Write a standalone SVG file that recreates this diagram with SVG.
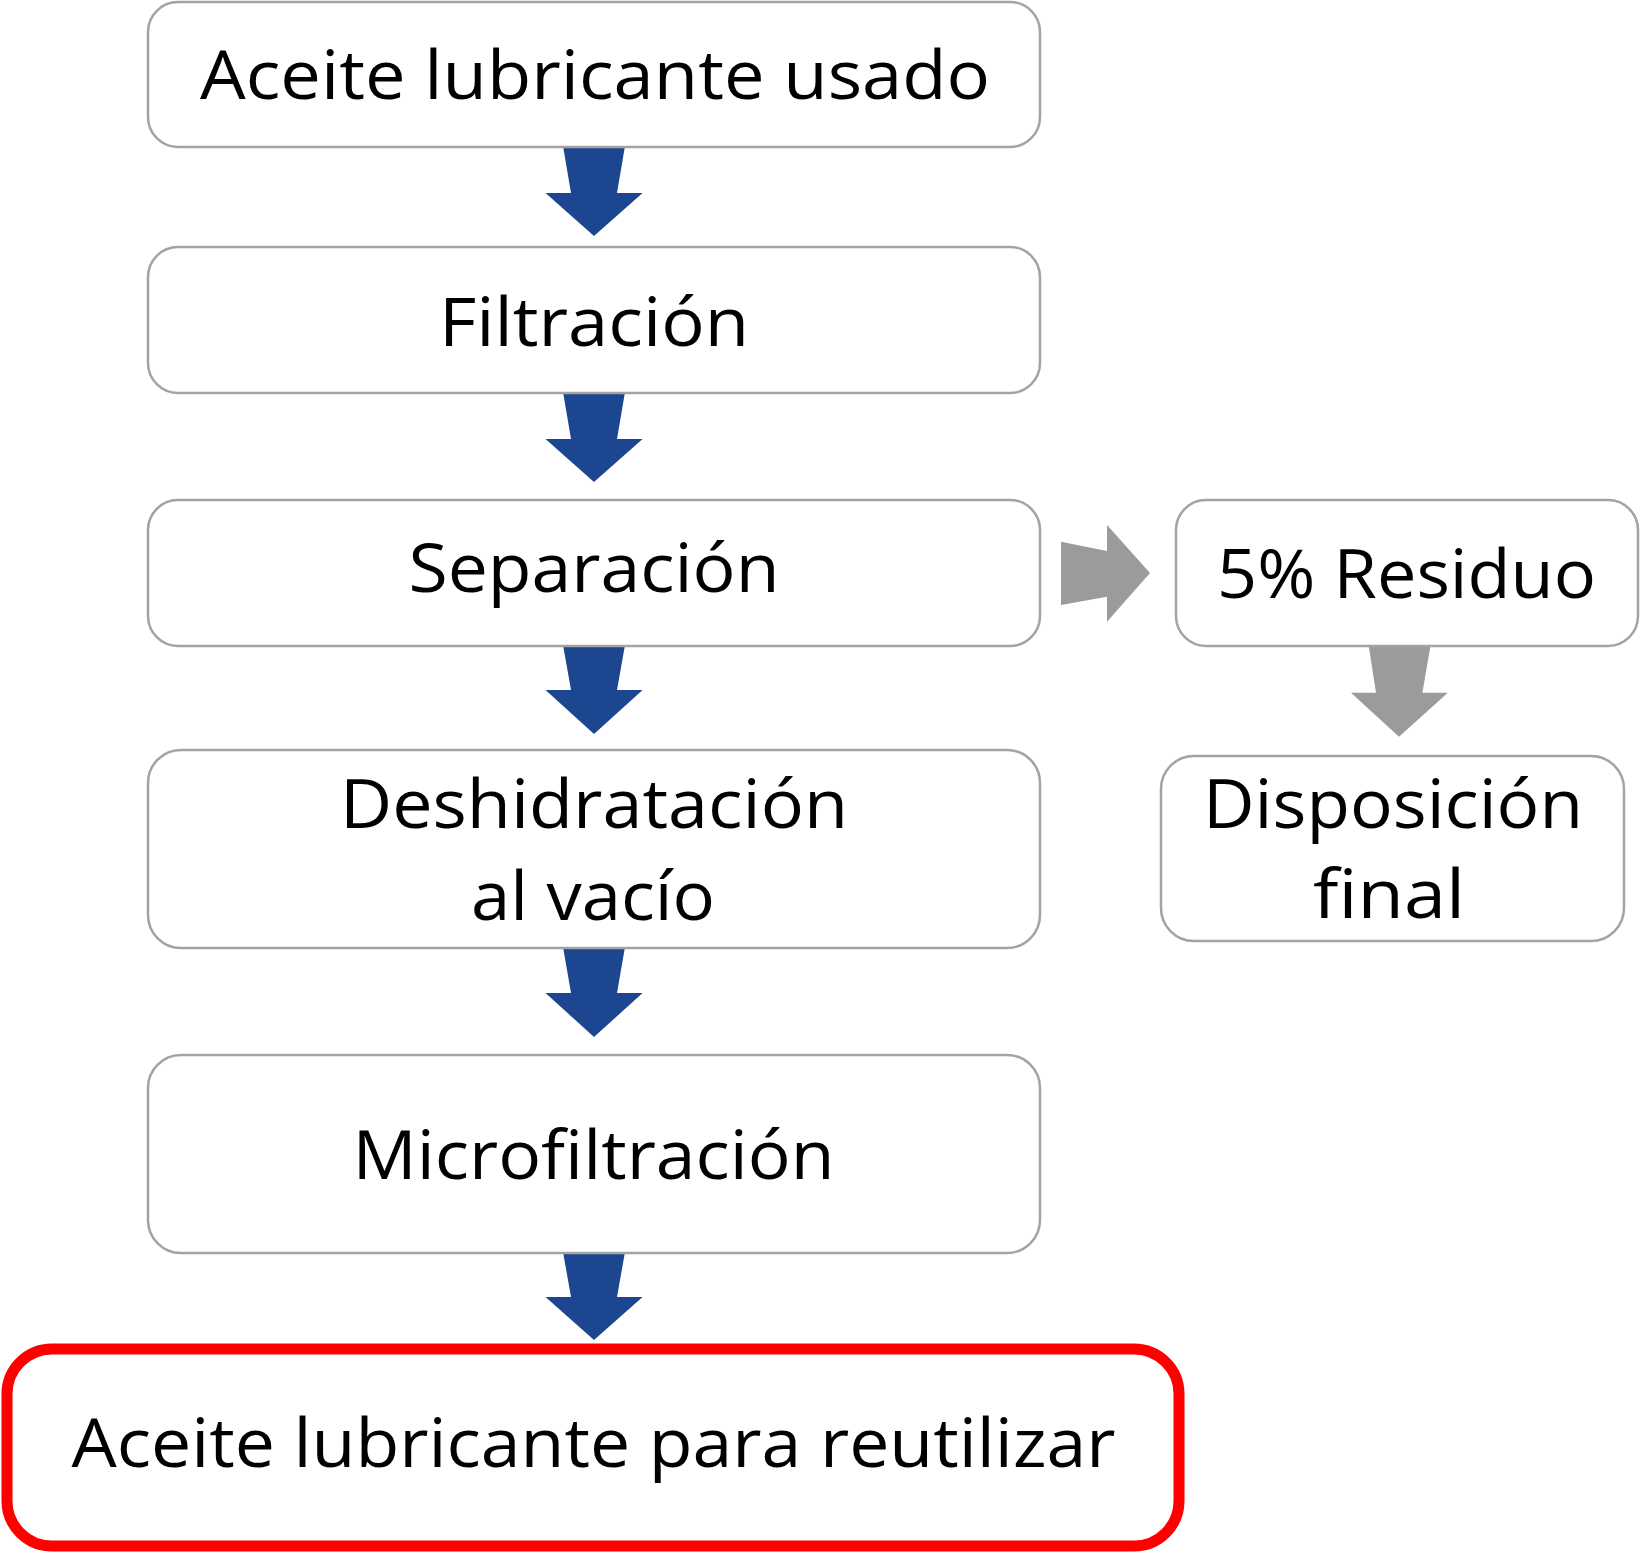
<svg xmlns="http://www.w3.org/2000/svg" width="1640" height="1552" viewBox="0 0 1640 1552">
<style>
.box{fill:#ffffff;stroke:#a3a3a3;stroke-width:2.5}
.final{fill:#ffffff;stroke:#ff0000;stroke-width:11}
.lbl{font-family:"Open Sans","Noto Sans","Liberation Sans",sans-serif;font-size:67px;fill:#000000;text-anchor:middle}
.blue{fill:#1c4790}
.grey{fill:#9b9b9b}
</style>
<rect width="1640" height="1552" fill="#ffffff"/>
<g id="connectors">
<polygon class="blue" points="563,146 625,146 617,193 642.6,193 594,236 545.5,193 571,193"/>
<polygon class="blue" points="563,392 625,392 617,439 642.6,439 594,482 545.5,439 571,439"/>
<polygon class="blue" points="563,645 625,645 617,690 642.6,690 594,734 545.5,690 571,690"/>
<polygon class="blue" points="563,947 625,947 617,993 642.6,993 594,1037 545.5,993 571,993"/>
<polygon class="blue" points="563,1252 625,1252 617,1297 642.6,1297 594,1340 545.5,1297 571,1297"/>
<polygon class="grey" points="1061,541.7 1107,551 1107,525 1150,573 1107,621.7 1107,596.7 1061,605"/>
<polygon class="grey" points="1368.6,645 1430.6,645 1422.4,692.7 1447.8,692.7 1399,736.7 1351,692.7 1376,692.7"/>
</g>
<g id="node-aceite-usado">
<rect class="box" x="148" y="2" width="892" height="145" rx="30"/>
<text class="lbl" x="595" y="99" textLength="790" lengthAdjust="spacingAndGlyphs">Aceite lubricante usado</text>
</g>
<g id="node-filtracion">
<rect class="box" x="148" y="247" width="892" height="146" rx="30"/>
<text class="lbl" x="594" y="346" textLength="310" lengthAdjust="spacingAndGlyphs">Filtración</text>
</g>
<g id="node-separacion">
<rect class="box" x="148" y="500" width="892" height="146" rx="30"/>
<text class="lbl" x="594" y="592" textLength="371" lengthAdjust="spacingAndGlyphs">Separación</text>
</g>
<g id="node-deshidratacion">
<rect class="box" x="148" y="750" width="892" height="198" rx="33"/>
<text class="lbl" x="594" y="828" textLength="508" lengthAdjust="spacingAndGlyphs">Deshidratación</text>
<text class="lbl" x="593" y="920" textLength="244" lengthAdjust="spacingAndGlyphs">al vacío</text>
</g>
<g id="node-microfiltracion">
<rect class="box" x="148" y="1055" width="892" height="198" rx="33"/>
<text class="lbl" x="593.5" y="1179" textLength="482" lengthAdjust="spacingAndGlyphs">Microfiltración</text>
</g>
<g id="node-aceite-reutilizar">
<rect class="final" x="7" y="1349" width="1172" height="197" rx="45"/>
<text class="lbl" x="593.5" y="1467" textLength="1044" lengthAdjust="spacingAndGlyphs">Aceite lubricante para reutilizar</text>
</g>
<g id="node-residuo">
<rect class="box" x="1176" y="500" width="462" height="146" rx="30"/>
<text class="lbl" x="1406.5" y="598" textLength="379" lengthAdjust="spacingAndGlyphs">5% Residuo</text>
</g>
<g id="node-disposicion">
<rect class="box" x="1161" y="756" width="463" height="185" rx="33"/>
<text class="lbl" x="1393" y="828" textLength="380" lengthAdjust="spacingAndGlyphs">Disposición</text>
<text class="lbl" x="1389" y="918" textLength="152" lengthAdjust="spacingAndGlyphs">final</text>
</g>
</svg>
